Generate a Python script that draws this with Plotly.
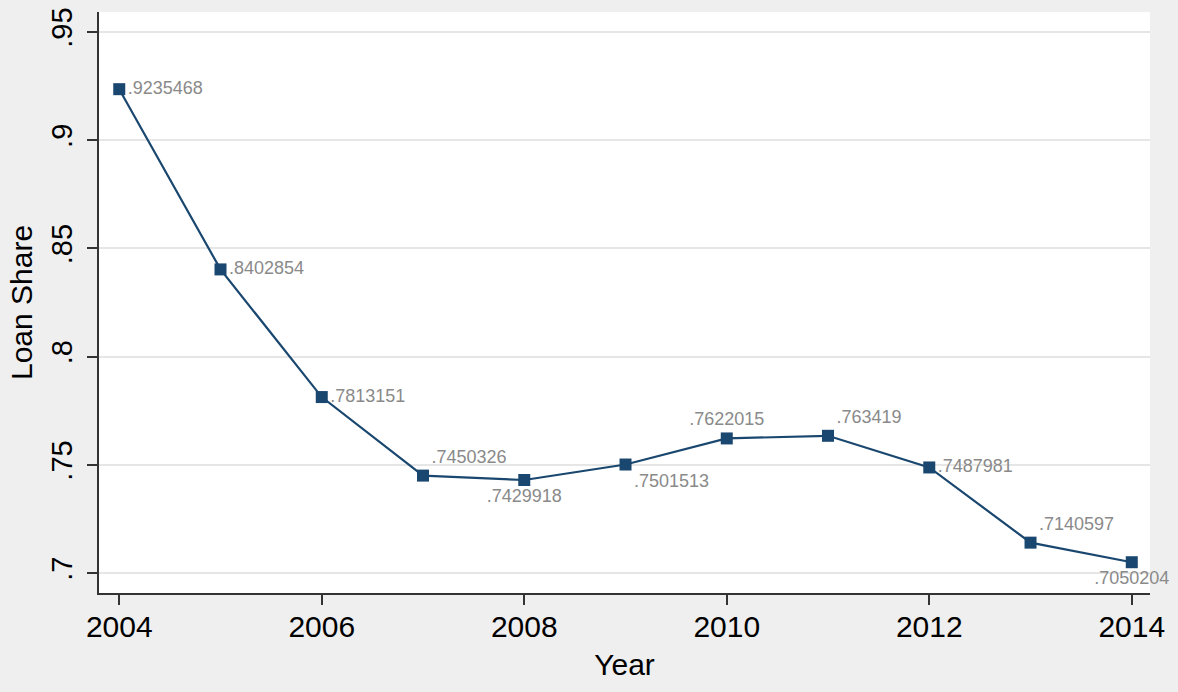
import plotly.graph_objects as go

years = [2004, 2005, 2006, 2007, 2008, 2009, 2010, 2011, 2012, 2013, 2014]
loan_share = [0.9235468, 0.8402854, 0.7813151, 0.7450326, 0.7429918, 0.7501513,
              0.7622015, 0.763419, 0.7487981, 0.7140597, 0.7050204]
labels = [".9235468", ".8402854", ".7813151", ".7450326", ".7429918", ".7501513",
          ".7622015", ".763419", ".7487981", ".7140597", ".7050204"]
label_pos = ["middle right", "middle right", "middle right", "top right", "bottom center",
             "bottom right", "top center", "top right", "middle right", "top right",
             "bottom center"]
y_ticks = [0.7, 0.75, 0.8, 0.85, 0.9, 0.95]
y_ticklabels = [".7", ".75", ".8", ".85", ".9", ".95"]
x_ticks = [2004, 2006, 2008, 2010, 2012, 2014]

navy = "#1a476f"

fig = go.Figure()
fig.add_trace(go.Scatter(
    x=years, y=loan_share, mode="lines+markers+text",
    text=labels, textposition=label_pos,
    textfont=dict(family="Liberation Sans, Arial", size=18, color="#8a8a8a"),
    line=dict(color=navy, width=2.2),
    marker=dict(symbol="square", size=12, color=navy),
    cliponaxis=False, showlegend=False,
))

fig.update_layout(
    width=1178, height=692,
    margin=dict(l=99, r=28, t=8, b=99),
    paper_bgcolor="#efefef", plot_bgcolor="#ffffff",
    font=dict(family="Liberation Sans, Arial", color="#000000"),
)
fig.update_xaxes(
    range=[2003.80, 2014.18], tickvals=x_ticks, ticks="outside", ticklen=10,
    tickwidth=1.5, tickcolor="#333333", showline=True, linecolor="#333333", linewidth=1.5,
    showgrid=False, zeroline=False, tickfont=dict(size=30), ticklabelstandoff=-4,
    title=dict(text="Year", font=dict(size=30), standoff=12),
)
fig.update_yaxes(
    range=[0.6908, 0.9592], tickvals=y_ticks, ticktext=y_ticklabels, tickangle=-90,
    ticks="outside", ticklen=10, tickwidth=1.5, tickcolor="#333333",
    showline=True, linecolor="#333333", linewidth=1.5,
    showgrid=True, gridcolor="#e6e6e6", gridwidth=2, zeroline=False,
    tickfont=dict(size=29), ticklabelstandoff=4,
    title=dict(text="Loan Share", font=dict(size=30), standoff=4),
)

fig.write_html("out.html", config={"displayModeBar": False},
               post_script="document.body.style.margin='0';")
